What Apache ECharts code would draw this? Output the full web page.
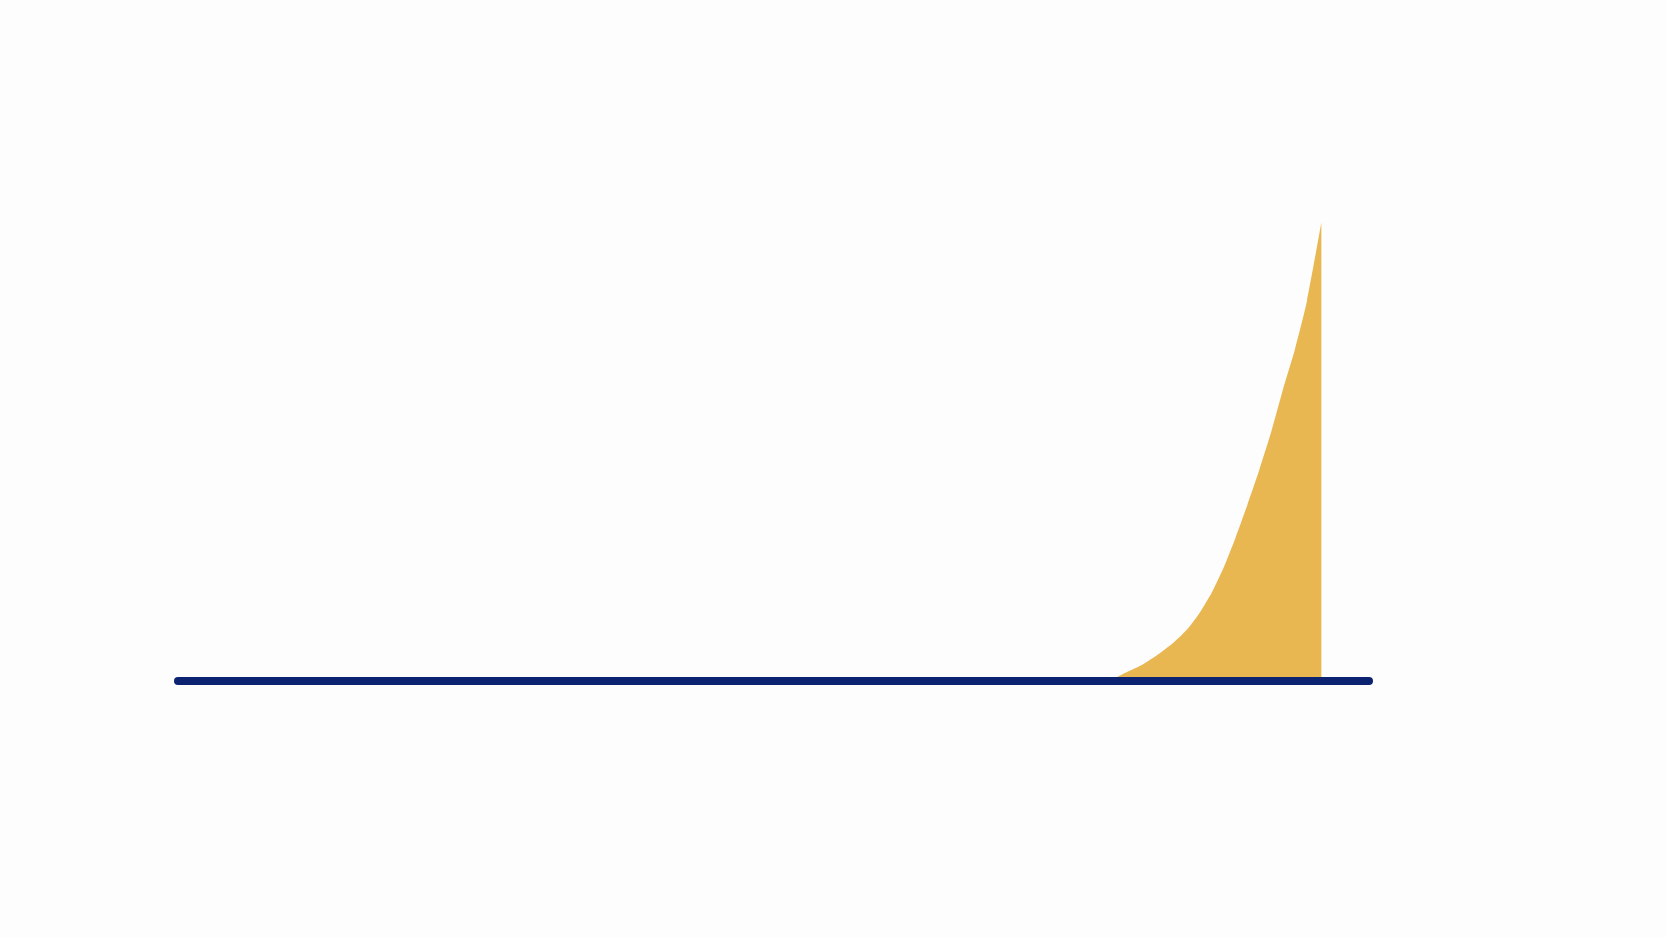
<!DOCTYPE html>
<html>
<head>
<meta charset="utf-8">
<script src="https://cdn.jsdelivr.net/npm/echarts@6/dist/echarts.min.js"></script>
<style>
html,body{margin:0;padding:0;background:#fdfdfd;}
#chart{width:1666px;height:937px;}
</style>
</head>
<body>
<div id="chart"></div>
<script>
var xValues = [0, 19.5, 19.9, 20.25, 20.6, 20.9, 21.2, 21.45, 21.7, 21.95, 22.2, 22.45, 22.7, 22.95, 23.2, 23.45, 23.7, 24];
var yValues = [0, 0, 8, 16, 27, 38, 52, 68, 88, 113, 143, 176, 211, 249, 292, 332, 380, 458];

var seriesData = xValues.map(function (x, i) { return [x, yValues[i]]; });

var chart = echarts.init(document.getElementById('chart'));
chart.setOption({
  backgroundColor: '#fdfdfd',
  animation: false,
  grid: { left: 178, right: 297, top: 180.5, bottom: 256.5 },
  xAxis: {
    type: 'value',
    min: 0,
    max: 25,
    z: 10,
    axisLine: { show: true, lineStyle: { color: '#0b2370', width: 8, cap: 'round' } },
    axisTick: { show: false },
    axisLabel: { show: false },
    splitLine: { show: false }
  },
  yAxis: {
    type: 'value',
    min: 0,
    max: 500,
    show: false,
    splitLine: { show: false }
  },
  series: [{
    type: 'line',
    data: seriesData,
    smooth: 0.2,
    showSymbol: false,
    lineStyle: { width: 0 },
    areaStyle: { color: '#e9b752', opacity: 1 }
  }]
});
</script>
</body>
</html>
